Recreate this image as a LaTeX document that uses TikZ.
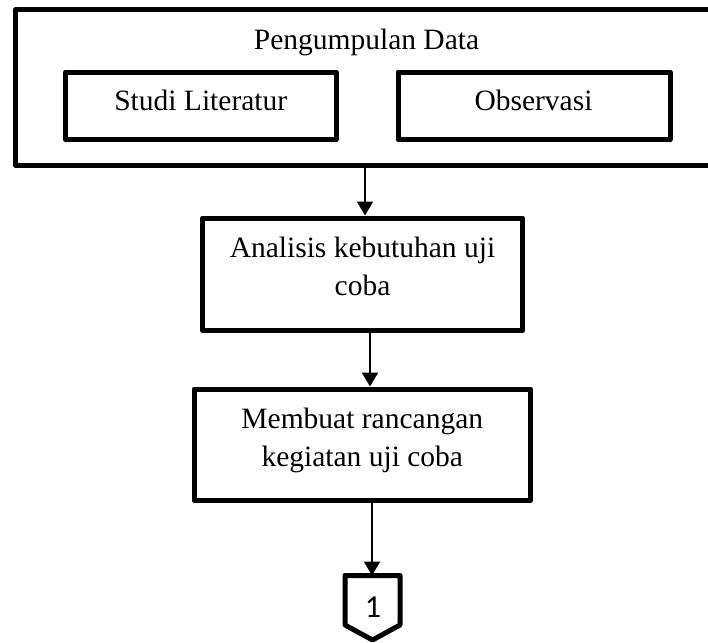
\documentclass[tikz,border=0pt]{standalone}
\usepackage{fontspec}
\setmainfont{Liberation Serif}
\newfontfamily\calibfont{Carlito}
\usetikzlibrary{arrows.meta}
\begin{document}
\begin{tikzpicture}[x=1pt,y=-1pt,
  box/.style={draw, line width=5pt, line join=round, inner sep=0pt},
  txt/.style={inner sep=0pt, anchor=base, font=\fontsize{29.5}{35}\selectfont},
  flow/.style={draw, line width=2pt, -{Triangle[length=14pt,width=16pt]}}]
\useasboundingbox (0,0) rectangle (708,642);
\clip (0,0) rectangle (708,642);
% boxes
\node[box, minimum width=706.5pt, minimum height=155.5pt] (outer) at (368.75,87.75) {};
\node[box, minimum width=270.5pt, minimum height=67.5pt] (studi) at (200.75,105.75) {};
\node[box, minimum width=272pt, minimum height=67.5pt] (obs) at (534,105.75) {};
\node[box, minimum width=320pt, minimum height=112.5pt] (analisis) at (362.5,274.25) {};
\node[box, minimum width=336.5pt, minimum height=111.5pt] (membuat) at (362.25,444.75) {};
% texts
\node[txt] (tPeng) at (366.5,49) {Pengumpulan Data};
\node[txt] (tStudi) at (200.75,110) {Studi Literatur};
\node[txt] (tObs) at (533.5,110) {Observasi};
\node[txt] (tA1) at (362.5,257) {Analisis kebutuhan uji};
\node[txt] (tA2) at (362.5,295) {coba};
\node[txt] (tM1) at (362.25,428) {Membuat rancangan};
\node[txt] (tM2) at (362.25,466) {kegiatan uji coba};
% off-page connector
\draw[line width=5pt, line join=round] (345,575.5) -- (400,575.5) -- (400,625) -- (372.5,640) -- (345,625) -- cycle;
\coordinate (conn) at (372.5,575.5);
\node[inner sep=0pt, anchor=base, font=\calibfont\fontsize{32}{34}\selectfont] (c1) at (373,617) {1};
% arrow columns
\coordinate (xa) at (365,0);
\coordinate (xb) at (370,0);
\coordinate (xc) at (372,0);
% connectors
\draw[flow] (outer.south -| xa) -- (analisis.north -| xa);
\draw[flow] (analisis.south -| xb) -- (membuat.north -| xb);
\draw[flow] (membuat.south -| xc) -- (conn -| xc);
\end{tikzpicture}
\end{document}
